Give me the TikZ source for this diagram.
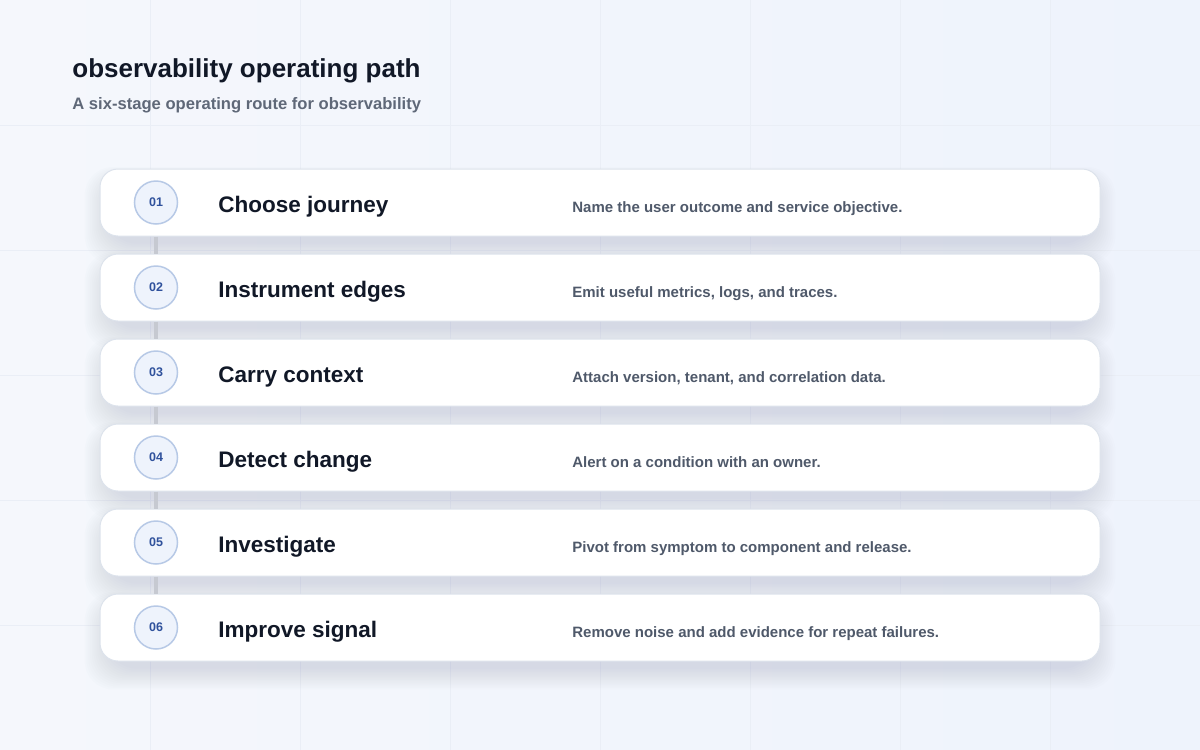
\documentclass[tikz,border=0pt]{standalone}
\usepackage{fontspec}
\setmainfont{Liberation Sans}
\definecolor{bgwest}{HTML}{F5F7FC}
\definecolor{bgeast}{HTML}{EEF3FC}
\definecolor{gridink}{HTML}{EAEEF6}
\definecolor{titleink}{HTML}{111827}
\definecolor{subink}{HTML}{5F6878}
\definecolor{descink}{HTML}{4F596A}
\definecolor{numink}{HTML}{2F519C}
\definecolor{numfill}{HTML}{EEF3FC}
\definecolor{numline}{HTML}{B7C9E6}
\definecolor{cardline}{HTML}{DDE3EC}
\definecolor{linkgray}{HTML}{C6C9D1}
\definecolor{shadeink}{HTML}{8C98B8}

\begin{document}
\begin{tikzpicture}[x=0.5pt,y=-0.5pt,
    gridline/.style={draw=gridink, line width=0.5pt},
    pagetitle/.style={anchor=base west, inner sep=0pt, text=titleink, font=\bfseries\fontsize{13}{15}\selectfont},
    pagesub/.style={anchor=base west, inner sep=0pt, text=subink, font=\bfseries\fontsize{8.3}{10}\selectfont},
    cardshade/.style={fill=shadeink, opacity=0.018, rounded corners=14pt},
    stagecard/.style={draw=cardline, line width=0.5pt, fill=white, rounded corners=9pt, minimum width=500pt, minimum height=33.5pt, inner sep=0pt},
    stagenum/.style={circle, draw=numline, line width=0.75pt, fill=numfill, minimum size=21.5pt, inner sep=0pt, text=numink, font=\bfseries\fontsize{6.25}{7}\selectfont},
    stagename/.style={anchor=base west, inner sep=0pt, text=titleink, font=\bfseries\fontsize{11.25}{13}\selectfont},
    stagedesc/.style={anchor=base west, inner sep=0pt, text=descink, font=\bfseries\fontsize{7.5}{9}\selectfont},
    stagelink/.style={draw=linkgray, line width=2pt}]
            \useasboundingbox (0,0) rectangle (1200,750);
            \fill[left color=bgwest, right color=bgeast] (0,0) rectangle (1200,750);
            \foreach \gx in {150,300,...,1050} \draw[gridline] (\gx,0) -- (\gx,750);
            \foreach \gy in {125,250,...,625} \draw[gridline] (0,\gy) -- (1200,\gy);

            \node[pagetitle] (title) at (72,77) {observability operating path};
            \node[pagesub] (subtitle) at (72,109) {A six-stage operating route for observability};

            % soft shadows under the cards
            \foreach \cy in {202.5,287.5,372.5,457.5,542.5,627.5}
              \foreach \k in {1,...,14}
                \fill[cardshade] (110-1.8*\k,\cy-21.5-\k) rectangle (1090+1.8*\k,\cy+39.5+1.6*\k);

            \node[stagecard] (card1) at (600,202.5) {};
            \node[stagenum] (num1) at (156,202.5) {01};
            \node[stagename] (name1) at (218,212) {Choose journey};
            \node[stagedesc] (desc1) at (572,212) {Name the user outcome and service objective.};

            \node[stagecard] (card2) at (600,287.5) {};
            \node[stagenum] (num2) at (156,287.5) {02};
            \node[stagename] (name2) at (218,297) {Instrument edges};
            \node[stagedesc] (desc2) at (572,297) {Emit useful metrics, logs, and traces.};

            \node[stagecard] (card3) at (600,372.5) {};
            \node[stagenum] (num3) at (156,372.5) {03};
            \node[stagename] (name3) at (218,382) {Carry context};
            \node[stagedesc] (desc3) at (572,382) {Attach version, tenant, and correlation data.};

            \node[stagecard] (card4) at (600,457.5) {};
            \node[stagenum] (num4) at (156,457.5) {04};
            \node[stagename] (name4) at (218,467) {Detect change};
            \node[stagedesc] (desc4) at (572,467) {Alert on a condition with an owner.};

            \node[stagecard] (card5) at (600,542.5) {};
            \node[stagenum] (num5) at (156,542.5) {05};
            \node[stagename] (name5) at (218,552) {Investigate};
            \node[stagedesc] (desc5) at (572,552) {Pivot from symptom to component and release.};

            \node[stagecard] (card6) at (600,627.5) {};
            \node[stagenum] (num6) at (156,627.5) {06};
            \node[stagename] (name6) at (218,637) {Improve signal};
            \node[stagedesc] (desc6) at (572,637) {Remove noise and add evidence for repeat failures.};

            \draw[stagelink] (card1.south -| num1) -- (card2.north -| num2);
            \draw[stagelink] (card2.south -| num2) -- (card3.north -| num3);
            \draw[stagelink] (card3.south -| num3) -- (card4.north -| num4);
            \draw[stagelink] (card4.south -| num4) -- (card5.north -| num5);
            \draw[stagelink] (card5.south -| num5) -- (card6.north -| num6);
        \end{tikzpicture}
\end{document}
